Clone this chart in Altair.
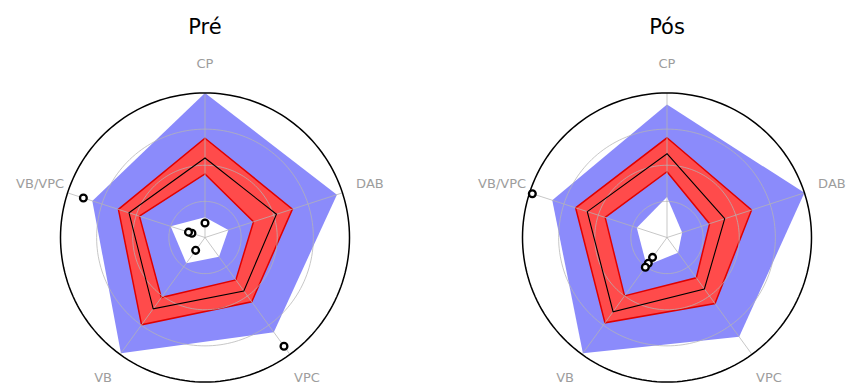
import numpy as np
import pandas as pd
import altair as alt

# Radar axes, clockwise from the top
axis_names = ["CP", "DAB", "VPC", "VB", "VB/VPC"]

# Normalised values (fraction of the outer ring) per axis
pre_max = [1.00, 0.96, 0.81, 0.99, 0.82]
pre_upper = [0.687, 0.636, 0.55, 0.747, 0.63]
pre_mean = [0.55, 0.52, 0.457, 0.61, 0.553]
pre_lower = [0.44, 0.353, 0.363, 0.514, 0.477]
pre_min = [0.14, 0.17, 0.165, 0.22, 0.25]

pos_max = [0.92, 1.00, 0.85, 0.99, 0.835]
pos_upper = [0.69, 0.615, 0.565, 0.73, 0.665]
pos_mean = [0.58, 0.42, 0.44, 0.635, 0.58]
pos_lower = [0.455, 0.31, 0.345, 0.50, 0.45]
pos_min = [0.28, 0.11, 0.13, 0.24, 0.22]

# Individual outlying observations
pre_pts_axis = ["CP", "VB/VPC", "VB/VPC", "VB", "VB/VPC", "VPC"]
pre_pts_r = [0.10, 0.095, 0.12, 0.11, 0.885, 0.93]
pos_pts_axis = ["VB", "VB", "VB", "VB/VPC"]
pos_pts_r = [0.17, 0.22, 0.255, 0.98]

ring_levels = [0.25, 0.5, 0.75]
label_radius = 1.2

BLUE = "#8b8bfb"
RED_FILL = "#ff4b4b"
RED_EDGE = "#e00000"
GRID = "#b4b4b4"

# Each panel spans half of the canvas; the polar centre sits off-centre in it
PX_PER_UNIT = 144.5
PANEL_W, PANEL_H = 423, 385
CENTRE_Y = 237.5
y_dom = [-(PANEL_H - CENTRE_Y) / PX_PER_UNIT, CENTRE_Y / PX_PER_UNIT]

ANG = "datum.idx * 2 * PI / 5"


def x_dom(centre_x):
    return [-centre_x / PX_PER_UNIT, (PANEL_W - centre_x) / PX_PER_UNIT]


def poly_df(values):
    return pd.DataFrame({"idx": list(range(len(values))), "r": values,
                         "axis": axis_names})


def polar_xy(chart):
    return chart.transform_calculate(
        px=f"datum.r * sin({ANG})", py=f"datum.r * cos({ANG})")


def enc_xy(chart, xs, ys, **extra):
    return chart.encode(
        x=alt.X("px:Q", scale=xs, axis=None),
        y=alt.Y("py:Q", scale=ys, axis=None),
        **extra,
    )


def polygon(values, xs, ys, **mark):
    base = alt.Chart(poly_df(values)).mark_line(interpolate="linear-closed", **mark)
    return enc_xy(polar_xy(base), xs, ys, order="idx:Q")


def rings(levels, xs, ys, **mark):
    deg = np.arange(0, 360, 2)
    df = pd.DataFrame([{"ring": lv, "deg": d} for lv in levels for d in deg])
    base = alt.Chart(df).mark_line(interpolate="linear-closed", **mark).transform_calculate(
        px="datum.ring * sin(datum.deg * PI / 180)",
        py="datum.ring * cos(datum.deg * PI / 180)",
    )
    return enc_xy(base, xs, ys, detail="ring:N", order="deg:Q")


def spokes(xs, ys):
    df = pd.DataFrame({"idx": list(range(5)), "r": [1.0] * 5})
    return alt.Chart(df).mark_rule(color=GRID, strokeWidth=1, opacity=0.75).transform_calculate(
        x0="0", y0="0",
        px=f"datum.r * sin({ANG})", py=f"datum.r * cos({ANG})",
    ).encode(
        x=alt.X("x0:Q", scale=xs, axis=None),
        y=alt.Y("y0:Q", scale=ys, axis=None),
        x2="px:Q", y2="py:Q",
    )


def labels(xs, ys):
    df = pd.DataFrame({"idx": list(range(5)), "r": [label_radius] * 5,
                       "axis": axis_names})
    base = alt.Chart(df).mark_text(font="DejaVu Sans", fontSize=13, color="#9d9d9d",
                                   align="center", baseline="middle")
    return enc_xy(polar_xy(base), xs, ys, text="axis:N")


def points(axes, rs, xs, ys):
    df = pd.DataFrame({"idx": [axis_names.index(a) for a in axes], "r": rs,
                       "axis": axes})
    base = alt.Chart(df).mark_point(shape="circle", size=46, fill="white",
                                    fillOpacity=1, stroke="black",
                                    strokeWidth=2.3, opacity=1)
    return enc_xy(polar_xy(base), xs, ys)


def panel(title, centre_x, vmax, upper, mean, lower, vmin, pts_axis, pts_r):
    xs = alt.Scale(domain=x_dom(centre_x), nice=False, zero=False)
    ys = alt.Scale(domain=y_dom, nice=False, zero=False)
    layers = [
        polygon(vmax, xs, ys, fill=BLUE, stroke=BLUE, strokeWidth=0),
        polygon(upper, xs, ys, fill=RED_FILL, stroke=RED_EDGE, strokeWidth=1.5),
        polygon(lower, xs, ys, fill=BLUE, stroke=RED_EDGE, strokeWidth=1.5),
        polygon(vmin, xs, ys, fill="white", stroke="white", strokeWidth=0),
        rings(ring_levels, xs, ys, color=GRID, strokeWidth=1, opacity=0.75),
        spokes(xs, ys),
        polygon(mean, xs, ys, color="black", strokeWidth=1.1),
        rings([1.0], xs, ys, color="black", strokeWidth=1.5),
        points(pts_axis, pts_r, xs, ys),
        labels(xs, ys),
    ]
    # title centred over the polar centre rather than the panel
    return alt.layer(*layers).properties(
        width=PANEL_W, height=PANEL_H,
        title=alt.TitleParams(title, fontSize=21, font="DejaVu Sans",
                              fontWeight="normal", color="black",
                              anchor="middle", frame="group", offset=-38,
                              dx=centre_x - PANEL_W / 2),
    )


left = panel("Pré", 205, pre_max, pre_upper, pre_mean, pre_lower, pre_min,
             pre_pts_axis, pre_pts_r)
right = panel("Pós", 667 - PANEL_W, pos_max, pos_upper, pos_mean, pos_lower,
              pos_min, pos_pts_axis, pos_pts_r)

chart = alt.hconcat(left, right, spacing=0).properties(
    padding=0,
).configure_view(strokeWidth=0)

chart.save("out.html", embed_options={"renderer": "svg", "actions": False})
